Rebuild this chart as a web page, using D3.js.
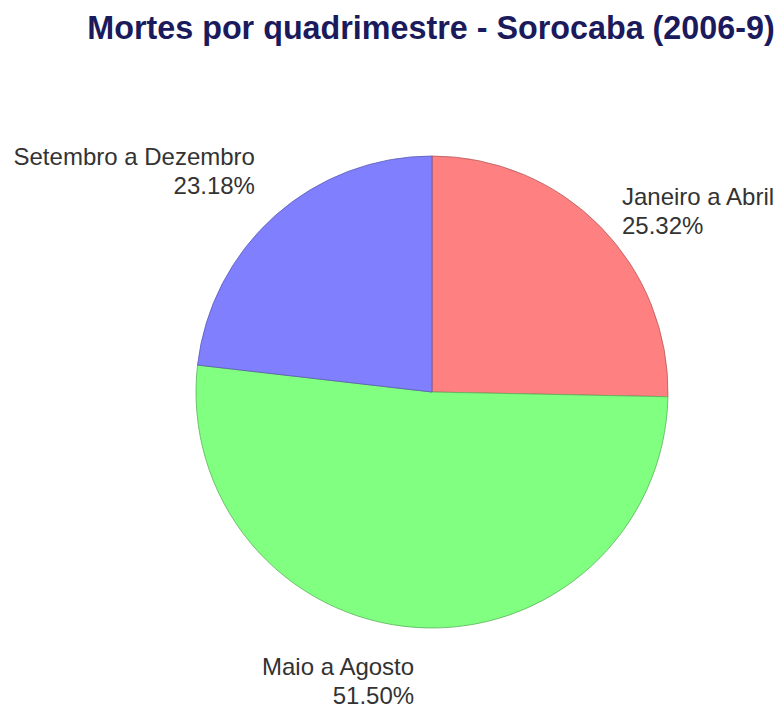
<!DOCTYPE html>
<html><head><meta charset="utf-8">
<script src="https://cdn.jsdelivr.net/npm/d3@7"></script>
<style>body{margin:0;background:#fff}</style>
</head><body><svg id="c" width="780" height="704"></svg>
<script>
const title = "Mortes por quadrimestre - Sorocaba (2006-9)";
const categories = ["Janeiro a Abril", "Maio a Agosto", "Setembro a Dezembro"];
const values = [25.32, 51.50, 23.18];
const colors = ["#ff8080", "#80ff80", "#8080ff"];
const strokes = ["#b35a5a", "#5ab35a", "#5a5ab3"];

const svg = d3.select("#c");
const cx = 432, cy = 392, R = 236;

svg.append("text").attr("x", 431).attr("y", 39)
  .attr("text-anchor", "middle")
  .attr("font-family", "Liberation Sans, Arial, sans-serif")
  .attr("font-weight", "bold").attr("font-size", 32.3)
  .attr("fill", "#1a1a5c").text(title);

const data = categories.map((c, i) => ({c, v: values[i], i}));
const pie = d3.pie().sort(null).value(d => d.v);
const arcs = pie(data);
const arc = d3.arc().innerRadius(0).outerRadius(R);
const g = svg.append("g").attr("transform", `translate(${cx},${cy})`);
g.selectAll("path").data(arcs).join("path")
  .attr("d", arc).attr("fill", d => colors[d.data.i])
  .attr("stroke", d => strokes[d.data.i]).attr("stroke-width", 0.8);

const fmt = d3.format(".2f");
const Lr = 266, lh = 29, fs = 24;
arcs.forEach(a => {
  const m = (a.startAngle + a.endAngle) / 2;
  const px = Lr * Math.sin(m), py = -Lr * Math.cos(m);
  const left = px < 0;
  let y1;
  if (left && py < 0) y1 = py - lh + 1;       // block bottom at point
  else if (left) y1 = py + 18;                 // block top at point
  else y1 = py - 1;
  const t = g.append("text")
    .attr("text-anchor", left ? "end" : "start")
    .attr("font-family", "Liberation Sans, Arial, sans-serif")
    .attr("font-size", fs).attr("fill", "#333");
  t.append("tspan").attr("x", px).attr("y", y1).text(a.data.c);
  t.append("tspan").attr("x", px).attr("y", y1 + lh).text(fmt(a.data.v) + "%");
});
</script></body></html>
